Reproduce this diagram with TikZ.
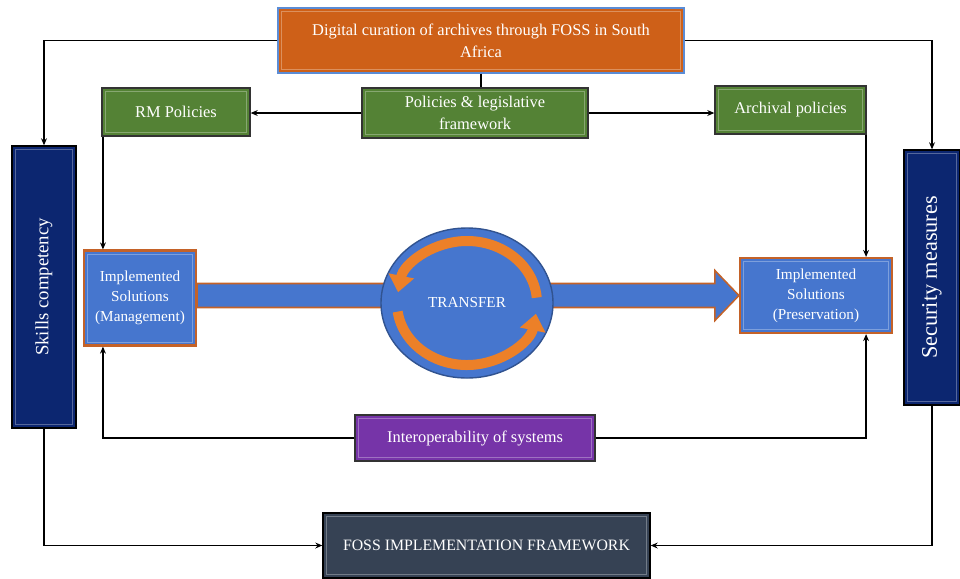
\documentclass[tikz,border=0pt]{standalone}
\usepackage{fontspec}
\setmainfont{Liberation Serif}
\usetikzlibrary{arrows.meta,shapes.geometric}

\definecolor{curorange}{RGB}{206,96,24}
\definecolor{edgeblue}{RGB}{91,140,213}
\definecolor{polgreen}{RGB}{84,130,53}
\definecolor{deepnavy}{RGB}{12,38,112}
\definecolor{implblue}{RGB}{70,118,206}
\definecolor{rimorange}{RGB}{196,98,40}
\definecolor{spinorange}{RGB}{236,128,40}
\definecolor{interpurple}{RGB}{118,52,168}
\definecolor{slategrey}{RGB}{54,66,84}

\begin{document}
\begin{tikzpicture}[x=0.03cm, y=-0.03cm,
  box/.style={draw=black!80, line width=1.1pt, text=white, align=center, inner sep=2pt,
    path picture={\draw[white, opacity=0.3, line width=0.8pt]
      ([shift={(3pt,-3pt)}]path picture bounding box.north west) rectangle
      ([shift={(-3pt,3pt)}]path picture bounding box.south east);}},
  implbox/.style={box, fill=implblue, draw=rimorange, line width=1.8pt,
    font=\fontsize{13}{17}\selectfont},
  link/.style={black, line width=1pt},
  arr/.style={link, -{Stealth[length=6pt,width=5pt]}},
  band/.style={fill=implblue, draw=rimorange, line width=1.3pt},
  spin/.style={draw=spinorange, line width=0.3cm, -{Triangle[width=0.75cm,length=0.5cm]}}]
  \useasboundingbox (0,0) rectangle (960,578);

  % top row
  \node[box, fill=curorange, draw=edgeblue, minimum width=12.18cm, minimum height=1.95cm,
    font=\fontsize{14}{19}\selectfont] (top) at (481,40.5)
    {Digital curation of archives through FOSS in South\\Africa};
  \node[box, fill=polgreen, minimum width=4.44cm, minimum height=1.44cm,
    font=\fontsize{14}{19}\selectfont] (rm) at (176,112) {RM Policies};
  \node[box, fill=polgreen, minimum width=6.78cm, minimum height=1.5cm,
    font=\fontsize{14}{19}\selectfont] (pol) at (475,113) {Policies \& legislative\\framework};
  \node[box, fill=polgreen, minimum width=4.53cm, minimum height=1.44cm,
    font=\fontsize{14}{19}\selectfont] (arch) at (790.5,110) {Archival policies};

  % side columns
  \node[box, fill=deepnavy, draw=black, minimum width=1.92cm, minimum height=8.46cm,
    font=\fontsize{16}{19}\selectfont] (skills) at (44,287) {\rotatebox{90}{Skills competency}};
  \node[box, fill=deepnavy, draw=black, minimum width=1.68cm, minimum height=7.65cm,
    font=\fontsize{19}{21}\selectfont] (security) at (932,277.5) {\rotatebox{90}{Security measures}};

  % middle row
  \node[implbox, minimum width=3.36cm, minimum height=2.85cm] (mgmt) at (140,298)
    {Implemented\\Solutions\\(Management)};
  \node[implbox, minimum width=4.56cm, minimum height=2.25cm] (pres) at (816,295.5)
    {Implemented\\Solutions\\(Preservation)};

  % transfer band
  \coordinate (bandL) at (mgmt.east |- pres.west);
  \draw[band] ([yshift=0.36cm]bandL) -- ([xshift=-0.72cm,yshift=0.36cm]pres.west)
    -- ([xshift=-0.72cm,yshift=0.75cm]pres.west) -- (pres.west)
    -- ([xshift=-0.72cm,yshift=-0.75cm]pres.west) -- ([xshift=-0.72cm,yshift=-0.36cm]pres.west)
    -- ([yshift=-0.36cm]bandL) -- cycle;

  \node[ellipse, fill=implblue, draw=implblue!70!black, line width=1.2pt,
    minimum width=5.16cm, minimum height=4.5cm, text=white,
    font=\fontsize{13}{16}\selectfont] (xfer) at (467,303) {TRANSFER};
  \draw[spin] ([shift={(5:2.1cm and 1.86cm)}]xfer.center)
    arc[start angle=5, end angle=170, x radius=2.1cm, y radius=1.86cm];
  \draw[spin] ([shift={(188:2.1cm and 1.86cm)}]xfer.center)
    arc[start angle=188, end angle=350, x radius=2.1cm, y radius=1.86cm];

  % bottom row
  \node[box, fill=interpurple, minimum width=7.2cm, minimum height=1.38cm,
    font=\fontsize{14}{19}\selectfont] (interop) at (475,438) {Interoperability of systems};
  \node[box, fill=slategrey, draw=black, minimum width=9.81cm, minimum height=1.95cm,
    font=\fontsize{13.5}{16}\selectfont] (foss) at (486.5,545.5) {FOSS IMPLEMENTATION FRAMEWORK};

  % connectors
  \coordinate (mgmtin) at ([xshift=0.6cm]mgmt.north west);
  \coordinate (mgmtout) at ([xshift=0.6cm]mgmt.south west);
  \coordinate (presin) at ([xshift=-0.81cm]pres.north east);
  \coordinate (presout) at ([xshift=-0.81cm]pres.south east);

  \draw[arr] (top.west) -| (skills.north);
  \draw[arr] (top.east) -| (security.north);
  \draw[link] (top.south) -- (top.south |- pol.north);
  \draw[arr] (pol.west) -- (pol.west -| rm.east);
  \draw[arr] (pol.east) -- (pol.east -| arch.west);
  \draw[arr] (rm.south -| mgmtin) -- (mgmtin);
  \draw[arr] (arch.south -| presin) -- (presin);
  \draw[arr] (interop.west) -| (mgmtout);
  \draw[arr] (interop.east) -| (presout);
  \draw[arr] (skills.south) |- (foss.west);
  \draw[arr] (security.south) |- (foss.east);
\end{tikzpicture}
\end{document}
